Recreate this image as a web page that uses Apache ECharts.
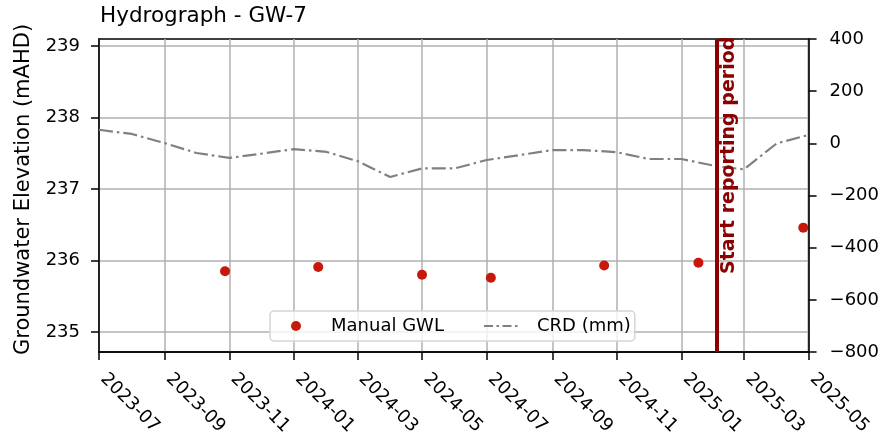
<!DOCTYPE html>
<html>
<head>
<meta charset="utf-8">
<script src="https://cdn.jsdelivr.net/npm/echarts@6/dist/echarts.min.js"></script>
<style>
  html, body { margin: 0; padding: 0; background: #fff; }
  #chart { width: 882px; height: 440px; }
</style>
</head>
<body>
<div id="chart"></div>
<script>
// manual groundwater level readings (mAHD)
var gwlDates = ['2023-10-28', '2024-01-24', '2024-05-01', '2024-07-05', '2024-10-20', '2025-01-17', '2025-04-26'];
var gwlValues = [235.85, 235.91, 235.80, 235.76, 235.93, 235.97, 236.46];

// cumulative rainfall deviation, monthly (mm)
var crdDates = ['2023-07-01', '2023-08-01', '2023-09-01', '2023-10-01', '2023-11-01', '2023-12-01',
  '2024-01-01', '2024-02-01', '2024-03-01', '2024-04-01', '2024-05-01', '2024-06-01',
  '2024-07-01', '2024-08-01', '2024-09-01', '2024-10-01', '2024-11-01', '2024-12-01',
  '2025-01-01', '2025-02-01', '2025-03-01', '2025-04-01', '2025-05-01'];
var crdValues = [52, 36, 1, -37, -56, -40, -22, -33, -68, -129, -96, -96,
  -64, -45, -26, -26, -34, -60, -60, -86, -100, 0, 32];

var xTickDates = ['2023-07-01', '2023-09-01', '2023-11-01', '2024-01-01', '2024-03-01', '2024-05-01',
  '2024-07-01', '2024-09-01', '2024-11-01', '2025-01-01', '2025-03-01', '2025-05-01'];
var leftTicks = [235, 236, 237, 238, 239];
var reportStart = '2025-02-03';
var reportLabelBase = 235.77;

function ts(s) {
  var p = s.split('-');
  return new Date(+p[0], +p[1] - 1, +p[2]).getTime();
}
function pad(n) { return n < 10 ? '0' + n : '' + n; }

var font = 'DejaVu Sans';
var gridColor = '#b0b0b0';
var crdDash = [14, 4, 2.5, 4];
var xTicks = xTickDates.map(ts);

var chart = echarts.init(document.getElementById('chart'));
chart.setOption({
  animation: false,
  textStyle: { fontFamily: font },
  title: {
    text: 'Hydrograph - GW-7',
    left: 95, top: 0,
    textStyle: { fontFamily: font, fontSize: 21.5, fontWeight: 'normal', color: '#000' }
  },
  grid: {
    left: 99, right: 73, top: 39, bottom: 88,
    show: true, borderColor: '#000', borderWidth: 1.5, backgroundColor: 'transparent'
  },
  legend: {
    left: 270, top: 311,
    padding: [6, 4, 6, 21],
    itemGap: 39, itemWidth: 36, itemHeight: 10,
    borderColor: '#d5d5d5', borderWidth: 1.5, borderRadius: 4,
    backgroundColor: 'rgba(255,255,255,0.8)',
    textStyle: { fontFamily: font, fontSize: 18, color: '#000', padding: [0, 0, 0, 12] },
    data: [
      { name: 'Manual GWL', icon: 'circle' },
      { name: 'CRD (mm)', itemStyle: { opacity: 0 }, lineStyle: { color: '#808080', width: 2.2, type: [9, 3.5, 2.5, 3.5] } }
    ]
  },
  xAxis: {
    type: 'value',
    min: xTicks[0],
    max: xTicks[xTicks.length - 1],
    axisLine: { onZero: false, lineStyle: { color: '#000', width: 1.5 } },
    axisTick: { show: true, length: 8, lineStyle: { color: '#000', width: 1.5 }, customValues: xTicks },
    axisLabel: {
      rotate: -45, margin: 20, fontSize: 18, color: '#000', fontFamily: font,
      padding: [0, 0, 0, 6],
      customValues: xTicks,
      formatter: function (v) {
        var d = new Date(v);
        return d.getFullYear() + '-' + pad(d.getMonth() + 1);
      }
    },
    splitLine: { show: true, lineStyle: { color: gridColor, width: 1.5 } }
  },
  yAxis: [{
    type: 'value',
    min: 234.72, max: 239.1,
    name: 'Groundwater Elevation (mAHD)',
    nameLocation: 'middle', nameGap: 65,
    nameTextStyle: { fontFamily: font, fontSize: 21, color: '#000', padding: [0, 0, 0, 12] },
    axisLine: { show: true, onZero: false, lineStyle: { color: '#000', width: 1.5 } },
    axisTick: { show: true, length: 8, lineStyle: { color: '#000', width: 1.5 }, customValues: leftTicks },
    axisLabel: { margin: 19, fontSize: 18, color: '#000', fontFamily: font, customValues: leftTicks },
    splitLine: { show: true, lineStyle: { color: gridColor, width: 1.5 } }
  }, {
    type: 'value',
    position: 'right',
    min: -800, max: 400, interval: 200,
    axisLine: { show: true, onZero: false, lineStyle: { color: '#000', width: 1.5 } },
    axisTick: { show: true, length: 8, lineStyle: { color: '#000', width: 1.5 } },
    axisLabel: {
      margin: 21, fontSize: 18, color: '#000', fontFamily: font,
      formatter: function (v) { return v < 0 ? '\u2212' + Math.abs(v) : '' + v; }
    },
    splitLine: { show: false }
  }],
  series: [{
    name: 'CRD (mm)',
    type: 'line',
    yAxisIndex: 1,
    symbol: 'none',
    z: 3,
    lineStyle: { color: '#808080', width: 2.2, type: crdDash },
    itemStyle: { color: '#808080' },
    data: crdDates.map(function (d, i) { return [ts(d), crdValues[i]]; })
  }, {
    name: 'Manual GWL',
    type: 'scatter',
    yAxisIndex: 0,
    symbol: 'circle',
    symbolSize: 10,
    z: 4,
    itemStyle: { color: '#c8180c', opacity: 1 },
    data: gwlDates.map(function (d, i) { return [ts(d), gwlValues[i]]; }),
    markLine: {
      silent: true,
      symbol: ['none', 'none'],
      animation: false,
      data: [
        [{ coord: [ts(reportStart), 234.72], lineStyle: { color: '#8b0000', width: 4, type: 'solid' }, label: { show: false } },
         { coord: [ts(reportStart), 239.1] }],
        [{ coord: [ts(reportStart), reportLabelBase], lineStyle: { color: 'rgba(0,0,0,0)', width: 1 },
           label: {
             show: true, position: 'insideStartBottom', distance: 3,
             formatter: 'Start reporting period',
             color: '#8b0000', fontWeight: 'bold', fontSize: 19, fontFamily: font
           } },
         { coord: [ts(reportStart), 239.1] }]
      ]
    }
  }]
});
</script>
</body>
</html>
